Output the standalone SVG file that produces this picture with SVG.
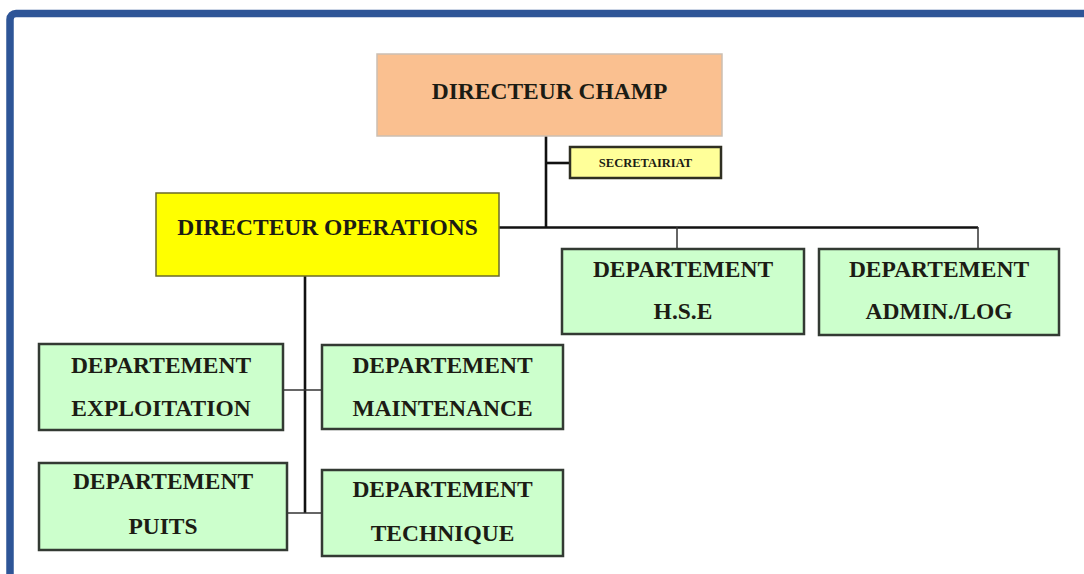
<svg xmlns="http://www.w3.org/2000/svg" width="1084" height="574" viewBox="0 0 1084 574">
<style>
text{font-family:"Liberation Serif","Times New Roman",serif;font-weight:bold;fill:#1c1c14;text-anchor:middle}
.t{font-size:23.5px}
.s{font-size:12.5px}
.dept{fill:#CCFFCC;stroke:#333a33;stroke-width:2.5}
.thick{stroke:#111;stroke-width:2.6;fill:none}
.thin{stroke:#333;stroke-width:1.5;fill:none}
</style>
<rect x="0" y="0" width="1084" height="574" fill="#ffffff"/>
<rect x="10" y="13.5" width="1200" height="1000" rx="6" fill="none" stroke="#2E5597" stroke-width="7.5"/>
<g id="connectors">
<path class="thick" d="M546 136 V227"/>
<path class="thick" d="M546 163 H570"/>
<path class="thick" d="M499 227.5 H978"/>
<path class="thin" d="M677 227 V249"/>
<path class="thin" d="M978 227 V249"/>
<path class="thick" d="M305 276 V513"/>
<path class="thin" d="M283 390 H322"/>
<path class="thin" d="M287 513 H322"/>
</g>
<g id="directeur-champ">
<rect x="377" y="54" width="345" height="82" fill="#FAC090" stroke="#cbbfb2" stroke-width="1.5"/>
<text class="t" x="549.5" y="99">DIRECTEUR CHAMP</text>
</g>
<g id="secretariat">
<rect x="570" y="147" width="151" height="31" fill="#FFFF99" stroke="#2f2f22" stroke-width="2.5"/>
<text class="s" x="645.5" y="166.5">SECRETAIRIAT</text>
</g>
<g id="directeur-operations">
<rect x="156" y="193" width="343" height="83" fill="#FFFF00" stroke="#6b6b2a" stroke-width="1.5"/>
<text class="t" x="327.5" y="235">DIRECTEUR OPERATIONS</text>
</g>
<g id="dept-hse">
<rect class="dept" x="562" y="249" width="242" height="85"/>
<text class="t" x="683" y="277">DEPARTEMENT</text>
<text class="t" x="683" y="319">H.S.E</text>
</g>
<g id="dept-admin">
<rect class="dept" x="819" y="249" width="240" height="86"/>
<text class="t" x="939" y="277">DEPARTEMENT</text>
<text class="t" x="939" y="319">ADMIN./LOG</text>
</g>
<g id="dept-exploitation">
<rect class="dept" x="39" y="344" width="244" height="86"/>
<text class="t" x="161" y="373">DEPARTEMENT</text>
<text class="t" x="161" y="416">EXPLOITATION</text>
</g>
<g id="dept-maintenance">
<rect class="dept" x="322" y="345" width="241" height="84"/>
<text class="t" x="442.5" y="373">DEPARTEMENT</text>
<text class="t" x="442.5" y="416">MAINTENANCE</text>
</g>
<g id="dept-puits">
<rect class="dept" x="39" y="463" width="248" height="87"/>
<text class="t" x="163" y="489">DEPARTEMENT</text>
<text class="t" x="163" y="534">PUITS</text>
</g>
<g id="dept-technique">
<rect class="dept" x="322" y="470" width="241" height="86"/>
<text class="t" x="442.5" y="497">DEPARTEMENT</text>
<text class="t" x="442.5" y="541">TECHNIQUE</text>
</g>
</svg>
